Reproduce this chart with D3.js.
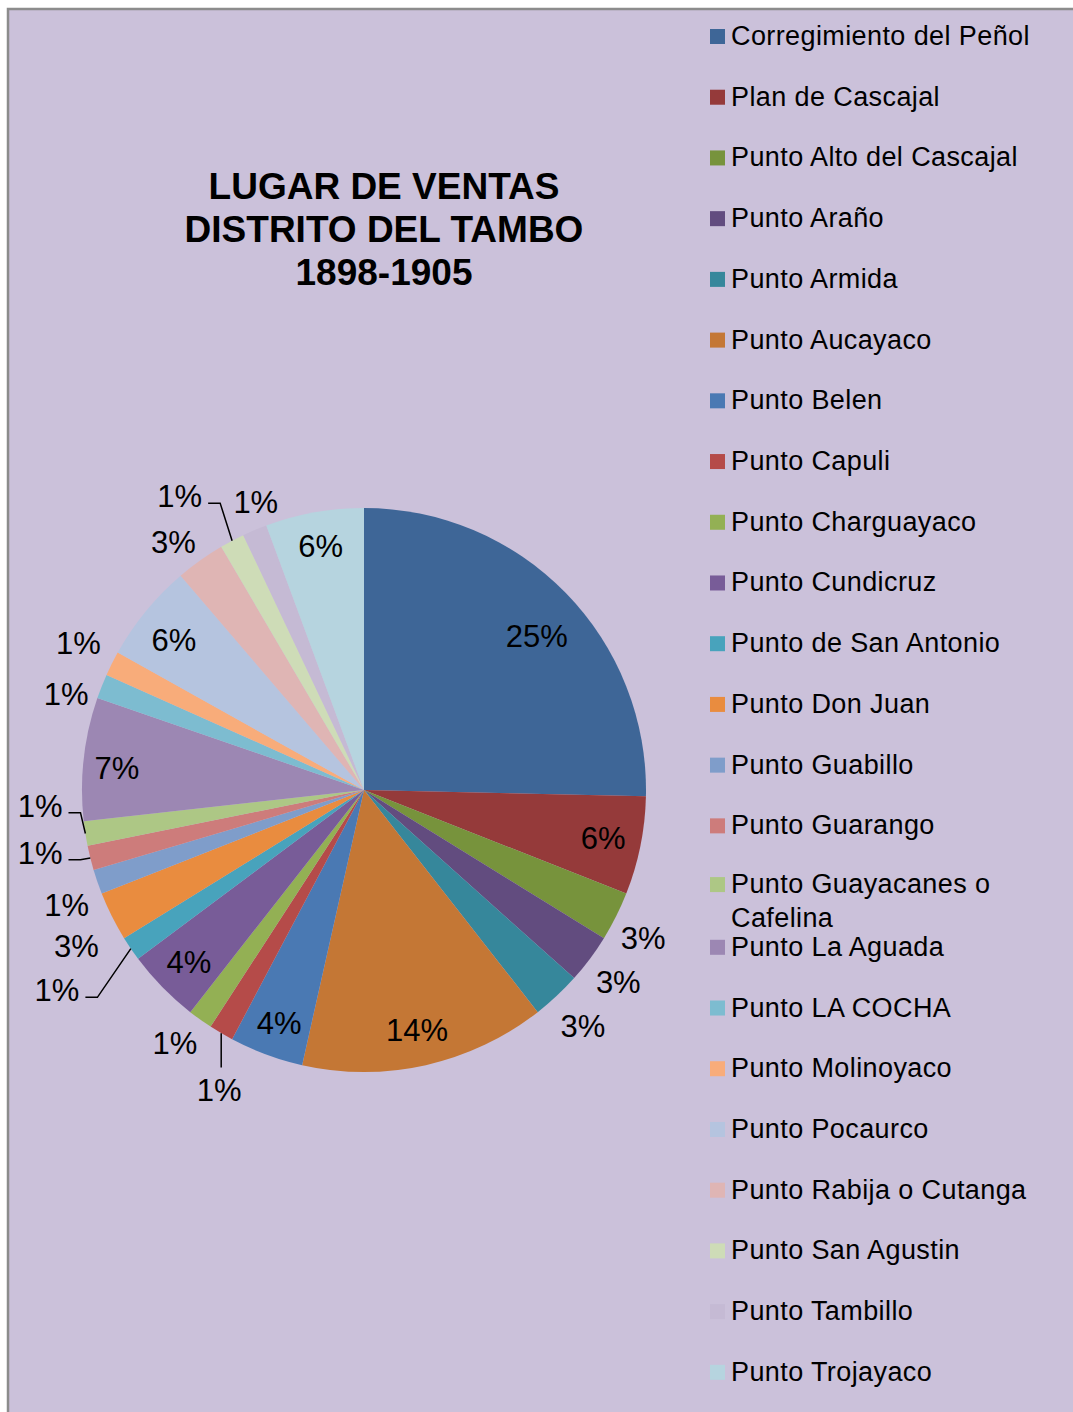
<!DOCTYPE html>
<html>
<head>
<meta charset="utf-8">
<script src="https://cdn.jsdelivr.net/npm/d3@7"></script>
<style>
  html, body { margin: 0; padding: 0; background: #fff; }
  svg { display: block; font-family: "Liberation Sans", Arial, sans-serif; }
</style>
</head>
<body>
<div id="chart"></div>
<script>
// datos
const categories = [
  "Corregimiento del Peñol", "Plan de Cascajal", "Punto Alto del Cascajal", "Punto Araño",
  "Punto Armida", "Punto Aucayaco", "Punto Belen", "Punto Capuli", "Punto Charguayaco",
  "Punto Cundicruz", "Punto de San Antonio", "Punto Don Juan", "Punto Guabillo",
  "Punto Guarango", "Punto Guayacanes o Cafelina", "Punto La Aguada", "Punto LA COCHA",
  "Punto Molinoyaco", "Punto Pocaurco", "Punto Rabija o Cutanga", "Punto San Agustin",
  "Punto Tambillo", "Punto Trojayaco"
];
const counts = [18, 4, 2, 2, 2, 10, 3, 1, 1, 3, 1, 2, 1, 1, 1, 5, 1, 1, 4, 2, 1, 1, 4];
const colors = [
  "#3E6697", "#953A3A", "#77933C", "#624C7F", "#36879B", "#C47735",
  "#4A79B3", "#B54B49", "#93B054", "#785C98", "#48A3BC", "#E98C3F",
  "#7F9DCA", "#CD7C7B", "#ADC785", "#9C87B3", "#7DBCD0", "#F8AC7A",
  "#B5C4DF", "#DFB5B4", "#CEDCB7", "#C5BAD4", "#B6D4DF"
];
const titleLines = ["LUGAR DE VENTAS", "DISTRITO DEL TAMBO", "1898-1905"];

// colocacion de etiquetas: [factor de radio, desplazamiento de angulo (grados), guia]
const labelLayout = [
  [0.82, 2.7, null], [0.865, 0, null], [1.12, 1.3, null], [1.13, 0.3, null],
  [1.14, 0.2, null], [0.87, 0.2, null], [0.88, -0.3, null], [1.18, -4.6, "down"],
  [1.12, 1.3, null], [0.87, -0.1, null], [1.30, 1.1, "left"], [1.16, -1.8, null],
  [1.13, -2.1, null], [1.17, 3.0, "left"], [1.15, 6.1, "left"], [0.88, -1.2, null],
  [1.11, -3.7, null], [1.14, 0.7, null], [0.86, -0.9, null], [1.11, -2.0, null],
  [1.23, -4.2, "left"], [1.09, 2.2, null], [0.88, 0.1, null]
];

const W = 1073, H = 1412;
const cx = 364, cy = 790, R = 282;

const svg = d3.select("#chart").append("svg")
  .attr("width", W).attr("height", H)
  .attr("viewBox", `0 0 ${W} ${H}`);

// fondo y borde
svg.append("rect").attr("x", 8).attr("y", 9).attr("width", W).attr("height", H)
  .attr("fill", "#CBC1DA");
svg.append("path").attr("d", `M8,${H} L8,9 L${W},9`)
  .attr("fill", "none").attr("stroke", "#8C8C8C").attr("stroke-width", 2.5);

// titulo
const title = svg.append("text")
  .attr("text-anchor", "middle")
  .attr("font-weight", "bold")
  .attr("font-size", 37)
  .attr("fill", "#000");
titleLines.forEach((t, i) => {
  title.append("tspan").attr("x", 384).attr("y", 199 + i * 43).text(t);
});

// pastel
const total = d3.sum(counts);
const data = categories.map((c, i) => ({ name: c, value: counts[i], color: colors[i], i: i }));
const pie = d3.pie().value(d => d.value).sort(null).startAngle(0).endAngle(2 * Math.PI);
const arc = d3.arc().innerRadius(0).outerRadius(R);
const arcs = pie(data);

const g = svg.append("g").attr("transform", `translate(${cx},${cy})`);
g.selectAll("path.slice")
  .data(arcs)
  .enter()
  .append("path")
  .attr("class", "slice")
  .attr("d", arc)
  .attr("fill", d => d.data.color);

// etiquetas
const fs = 31;
arcs.forEach((d, i) => {
  const lay = labelLayout[i];
  const mid = (d.startAngle + d.endAngle) / 2;
  const p = d3.pointRadial(mid + lay[1] * Math.PI / 180, R * lay[0]);
  const txt = g.append("text")
    .attr("x", p[0]).attr("y", p[1])
    .attr("dy", "0.36em")
    .attr("text-anchor", "middle")
    .attr("font-size", fs)
    .attr("fill", "#000")
    .text(Math.round(d.data.value / total * 100) + "%");
  if (lay[2]) {
    const a = d3.pointRadial(mid, R);
    let pts;
    if (lay[2] === "down") {
      pts = [a, [a[0], p[1] - 22]];
    } else {
      const w = txt.node().getComputedTextLength();
      const end = [p[0] + w / 2 + 6, p[1] + 7];
      pts = [a, [end[0] + 12, end[1]], end];
    }
    g.append("path")
      .attr("d", d3.line()(pts))
      .attr("fill", "none")
      .attr("stroke", "#000")
      .attr("stroke-width", 1.5);
  }
});

// leyenda
const legend = svg.append("g");
const rowH = 60.72, base0 = 45, maxW = 330;
data.forEach((d, i) => {
  const yb = base0 + i * rowH;
  const item = legend.append("g");
  const t = item.append("text")
    .attr("x", 731).attr("y", yb)
    .attr("font-size", 27)
    .attr("letter-spacing", 0.4)
    .attr("fill", "#000")
    .text(d.name);
  let markY = yb - 8.5;
  if (t.node().getComputedTextLength() > maxW) {
    // partir en dos lineas
    const words = d.name.split(" ");
    t.text(null);
    const t1 = t.append("tspan").attr("x", 731).attr("y", yb - 2);
    let n = 0;
    for (let k = 1; k <= words.length; k++) {
      t1.text(words.slice(0, k).join(" "));
      if (t1.node().getComputedTextLength() > maxW) break;
      n = k;
    }
    t1.text(words.slice(0, n).join(" "));
    t.append("tspan").attr("x", 731).attr("y", yb + 32).text(words.slice(n).join(" "));
    markY = yb - 10.5;
  }
  item.append("rect")
    .attr("x", 710).attr("y", markY - 7.5)
    .attr("width", 15).attr("height", 15)
    .attr("fill", d.color);
});
</script>
</body>
</html>
